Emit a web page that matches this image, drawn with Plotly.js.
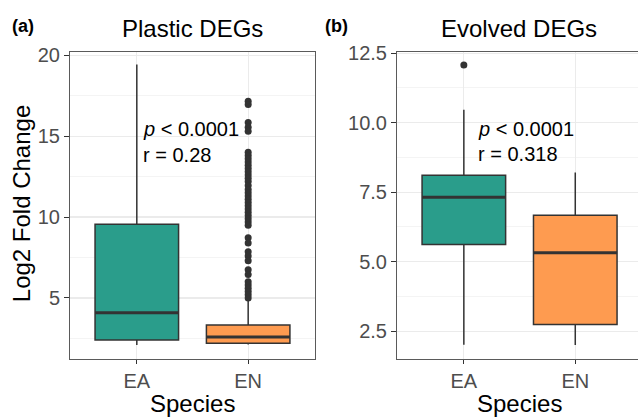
<!DOCTYPE html>
<html>
<head>
<meta charset="utf-8">
<script src="https://cdn.plot.ly/plotly-3.0.1.min.js"></script>
<style>html,body{margin:0;padding:0;background:#fff;}#chart{width:638px;height:417px;}</style>
</head>
<body>
<div id="chart"></div>
<script>
// ---- data ----
const species = ["EA", "EN"];
const speciesColors = ["#2a9d8b", "#fe9b50"];

// Panel (a) Plastic DEGs
const plasticQ1 = [2.41, 2.20];
const plasticMedian = [4.09, 2.59];
const plasticQ3 = [9.55, 3.33];
const plasticLowerWhisker = [2.10, 2.12];
const plasticUpperWhisker = [19.43, 5.00];
const plasticOutliersEA = [];
const plasticOutliersEN = [17.15, 16.95, 15.85, 15.55, 15.3, 14.0, 13.8, 13.6, 13.4, 13.2, 13.0, 12.8,
  12.6, 12.4, 12.2, 11.95, 11.7, 11.5, 11.3, 11.1, 10.9, 10.7, 10.5, 10.3, 10.1, 9.9, 9.7, 9.5,
  8.72, 8.4, 7.85, 7.6, 7.3, 6.75, 6.45, 6.0, 5.8, 5.6, 5.4, 5.2, 5.0];

// Panel (b) Evolved DEGs
const evolvedQ1 = [5.62, 2.74];
const evolvedMedian = [7.32, 5.32];
const evolvedQ3 = [8.11, 6.67];
const evolvedLowerWhisker = [2.01, 2.0];
const evolvedUpperWhisker = [10.46, 8.21];
const evolvedOutliersEA = [12.07];
const evolvedOutliersEN = [];

const panelTitles = ["Plastic DEGs", "Evolved DEGs"];
const panelLabels = ["(a)", "(b)"];
const statsText = [["<i>p</i> &lt; 0.0001", "r = 0.28"], ["<i>p</i> &lt; 0.0001", "r = 0.318"]];

// ---- build ----
const positions = [1, 2];
const boxWidth = 0.75;
const lineCol = "#333333";
const traces = [];

function addPanel(xa, ya, q1, med, q3, lo, hi, outs) {
  for (let i = 0; i < species.length; i++) {
    traces.push({
      type: "box", xaxis: xa, yaxis: ya,
      x: [positions[i]], q1: [q1[i]], median: [med[i]], q3: [q3[i]],
      lowerfence: [lo[i]], upperfence: [hi[i]],
      width: boxWidth, whiskerwidth: 0, boxpoints: false,
      fillcolor: speciesColors[i], line: {color: lineCol, width: 1.5},
      showlegend: false, hoverinfo: "skip"
    });
    traces.push({
      type: "scatter", mode: "lines", xaxis: xa, yaxis: ya,
      x: [positions[i] - boxWidth / 2, positions[i] + boxWidth / 2],
      y: [med[i], med[i]],
      line: {color: lineCol, width: 3}, showlegend: false, hoverinfo: "skip"
    });
    if (outs[i].length) {
      traces.push({
        type: "scatter", mode: "markers", xaxis: xa, yaxis: ya,
        x: outs[i].map(() => positions[i]), y: outs[i],
        marker: {color: lineCol, size: 7}, showlegend: false, hoverinfo: "skip"
      });
    }
  }
}
addPanel("x", "y", plasticQ1, plasticMedian, plasticQ3, plasticLowerWhisker, plasticUpperWhisker,
  [plasticOutliersEA, plasticOutliersEN]);
addPanel("x2", "y2", evolvedQ1, evolvedMedian, evolvedQ3, evolvedLowerWhisker, evolvedUpperWhisker,
  [evolvedOutliersEA, evolvedOutliersEN]);

const FAM = "Liberation Sans, Arial, sans-serif";
const tickFont = {family: FAM, size: 20, color: "#4d4d4d"};
const gridCol = "#ebebeb";
const borderCol = "#5a5a5a";

function xAxis(domain, range, mirror) {
  return {
    domain: domain, range: range, tickmode: "array", tickvals: positions, ticktext: species,
    showgrid: true, gridcolor: gridCol, gridwidth: 1.2, zeroline: false,
    showline: true, linecolor: borderCol, linewidth: 1, mirror: mirror,
    ticks: "outside", ticklen: 4, tickcolor: "#333", tickfont: tickFont, fixedrange: true
  };
}
function yAxis(anchor, range, dtick, fmt, minorDtick, mirror) {
  return {
    anchor: anchor, domain: [0, 1], range: range, tick0: 0, dtick: dtick, tickformat: fmt,
    showgrid: true, gridcolor: gridCol, gridwidth: 1.2, zeroline: false,
    minor: {dtick: minorDtick, tick0: 0, showgrid: true, gridcolor: "#f4f4f4", gridwidth: 1, ticks: ""},
    showline: true, linecolor: borderCol, linewidth: 1, mirror: mirror,
    ticks: "outside", ticklen: 5, tickcolor: "#333", tickfont: tickFont, fixedrange: true
  };
}

const txtFont = (size) => ({family: FAM, size: size, color: "#000"});

const annotations = [
  {text: "<b>" + panelLabels[0] + "</b>", xref: "paper", yref: "paper", x: -0.1056, y: 1.084, xanchor: "left", yanchor: "middle", showarrow: false, font: txtFont(18)},
  {text: "<b>" + panelLabels[1] + "</b>", xref: "paper", yref: "paper", x: 0.4454, y: 1.084, xanchor: "left", yanchor: "middle", showarrow: false, font: txtFont(18)},
  {text: panelTitles[0], xref: "paper", yref: "paper", x: 0.2165, y: 1.078, xanchor: "center", yanchor: "middle", showarrow: false, font: txtFont(24)},
  {text: panelTitles[1], xref: "paper", yref: "paper", x: 0.7905, y: 1.078, xanchor: "center", yanchor: "middle", showarrow: false, font: txtFont(24)},
  {text: "Species", xref: "paper", yref: "paper", x: 0.2157, y: -0.145, xanchor: "center", yanchor: "middle", showarrow: false, font: txtFont(24)},
  {text: "Species", xref: "paper", yref: "paper", x: 0.7905, y: -0.145, xanchor: "center", yanchor: "middle", showarrow: false, font: txtFont(24)},
  {text: "Log2 Fold Change", xref: "paper", yref: "paper", x: -0.0865, y: 0.507, xanchor: "center", yanchor: "middle", textangle: -90, showarrow: false, font: txtFont(24)},
  {text: statsText[0][0], xref: "x", yref: "y", x: 1.035, y: 15.44, xanchor: "left", yanchor: "middle", showarrow: false, font: txtFont(20)},
  {text: statsText[0][1], xref: "x", yref: "y", x: 1.035, y: 13.83, xanchor: "left", yanchor: "middle", showarrow: false, font: txtFont(20)},
  {text: statsText[1][0], xref: "x2", yref: "y2", x: 1.107, y: 9.77, xanchor: "left", yanchor: "middle", showarrow: false, font: txtFont(20)},
  {text: statsText[1][1], xref: "x2", yref: "y2", x: 1.107, y: 8.87, xanchor: "left", yanchor: "middle", showarrow: false, font: txtFont(20)}
];

const layout = {
  width: 638, height: 417,
  margin: {l: 70, r: 0, t: 52, b: 58},
  paper_bgcolor: "#fff", plot_bgcolor: "#fff",
  showlegend: false, boxmode: "overlay",
  font: {family: FAM},
  xaxis: Object.assign(xAxis([0, 0.4313], [0.4, 2.6], true), {anchor: "y"}),
  yaxis: yAxis("x", [1.23, 20.2], 5, "d", 2.5, true),
  xaxis2: Object.assign(xAxis([0.5757, 1], [0.4, 2.563], true), {anchor: "y2"}),
  yaxis2: yAxis("x2", [1.5, 12.54], 2.5, ".1f", 1.25, false),
  annotations: annotations
};

Plotly.newPlot("chart", traces, layout, {staticPlot: true, displayModeBar: false});
</script>
</body>
</html>
